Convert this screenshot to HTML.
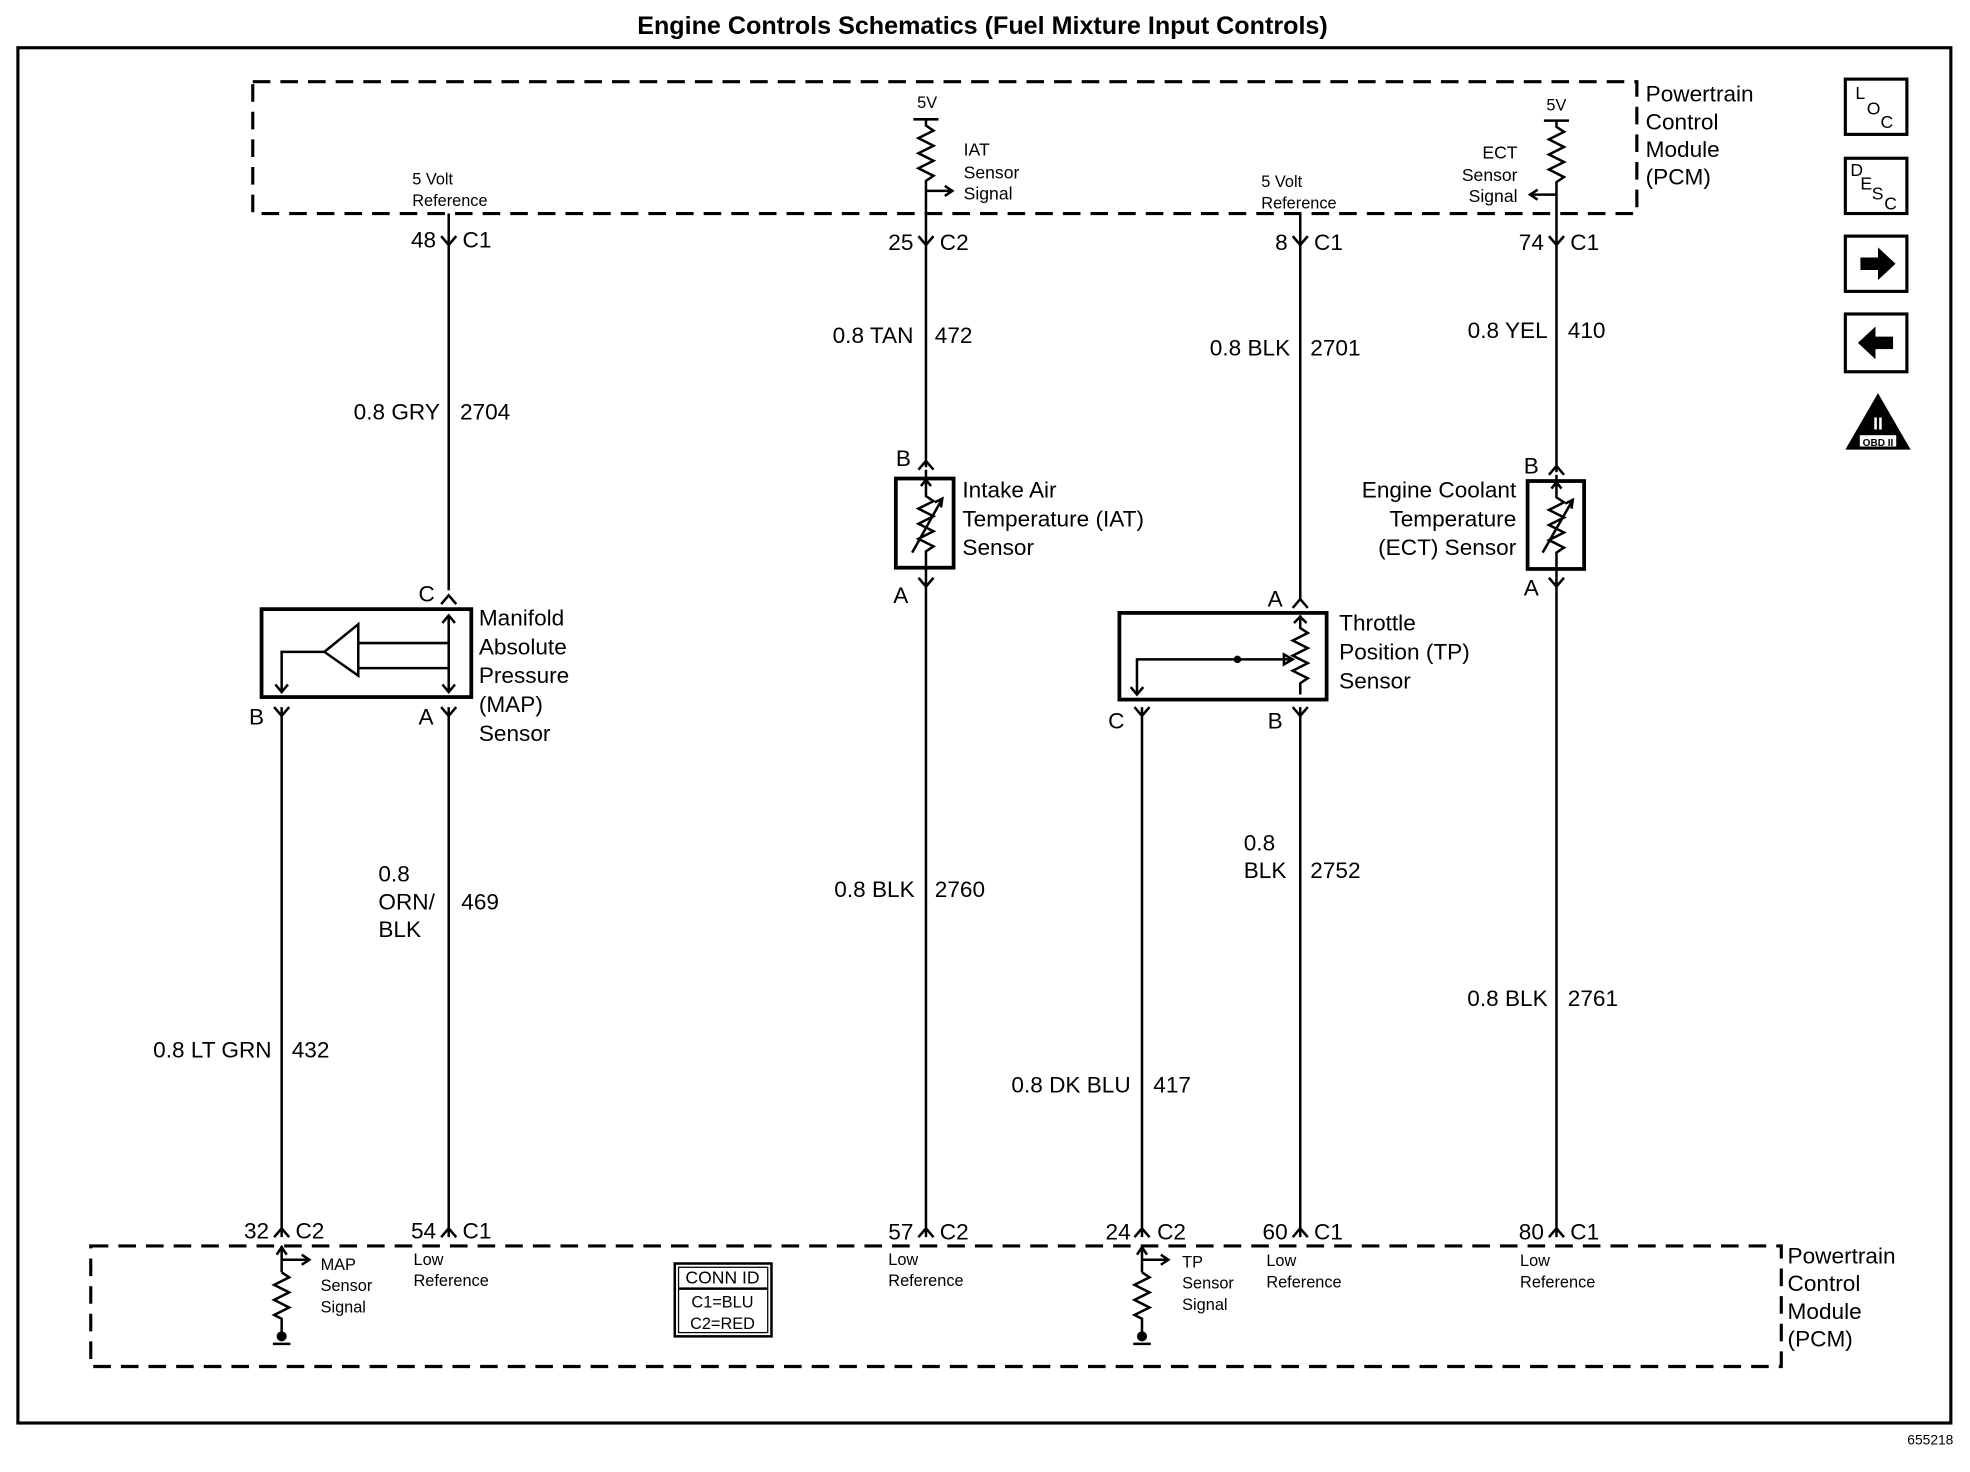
<!DOCTYPE html>
<html><head><meta charset="utf-8"><style>
html,body{margin:0;padding:0;background:#fff}
svg{display:block}
text{font-family:"Liberation Sans",sans-serif;fill:#000}
.l{font-size:18px}
.s{font-size:13px}
.m{font-size:14px}
.w{stroke:#000;stroke-width:2;fill:none}
.r{text-anchor:end}
</style></head><body>
<svg width="1970" height="1472" viewBox="0 0 1568 1172" xmlns="http://www.w3.org/2000/svg">
<text x="782" y="27" text-anchor="middle" style="font-size:20px;font-weight:bold">Engine Controls Schematics (Fuel Mixture Input Controls)</text>
<rect x="14" y="38" width="1539" height="1095" fill="none" stroke="#000" stroke-width="2.5"/>
<text x="1555" y="1150" class="r" style="font-size:11px">655218</text>

<!-- PCM boxes -->
<rect x="201" y="65" width="1102" height="105" fill="none" stroke="#000" stroke-width="2.5" stroke-dasharray="14 8"/>
<text class="l" x="1310" y="81">Powertrain</text><text class="l" x="1310" y="103">Control</text><text class="l" x="1310" y="125">Module</text><text class="l" x="1310" y="147">(PCM)</text>
<rect x="72" y="992" width="1346" height="96" fill="none" stroke="#000" stroke-width="2.5" stroke-dasharray="14 8"/>
<text class="l" x="1423" y="1006">Powertrain</text><text class="l" x="1423" y="1028">Control</text><text class="l" x="1423" y="1050">Module</text><text class="l" x="1423" y="1072">(PCM)</text>

<!-- Wire 357 top -->
<path class="w" d="M357 170V470M351 188l6 7 6-7M351 481l6-7 6 7"/>
<text class="s" x="328" y="147">5 Volt</text><text class="s" x="328" y="164">Reference</text>
<text class="l r" x="347" y="197">48</text><text class="l" x="368" y="197">C1</text>
<text class="l r" x="350" y="334">0.8 GRY</text><text class="l" x="366" y="334">2704</text>
<text class="l" x="333" y="479">C</text>

<!-- MAP sensor -->
<rect x="208" y="485" width="167" height="70" fill="none" stroke="#000" stroke-width="3"/>
<path class="w" d="M357 551V490M352 496l5-6 5 6M357 512H285M285 497V538L258 519Z M285 532H357V551M352 545l5 6 5-6M258 519H224V551M219 545l5 6 5-6"/>
<text class="l" x="381" y="498">Manifold</text><text class="l" x="381" y="521">Absolute</text><text class="l" x="381" y="544">Pressure</text><text class="l" x="381" y="567">(MAP)</text><text class="l" x="381" y="590">Sensor</text>
<text class="l" x="198" y="577">B</text><text class="l" x="333" y="577">A</text>
<path class="w" d="M224 563V985M218 563l6 7 6-7M357 563V985M351 563l6 7 6-7M218 985l6-7 6 7M351 985l6-7 6 7"/>
<text class="l r" x="216" y="842">0.8 LT GRN</text><text class="l" x="232" y="842">432</text>
<text class="l" x="301" y="702">0.8</text><text class="l" x="301" y="724">ORN/</text><text class="l" x="301" y="746">BLK</text><text class="l" x="367" y="724">469</text>
<text class="l r" x="214" y="986">32</text><text class="l" x="235" y="986">C2</text>
<text class="l r" x="347" y="986">54</text><text class="l" x="368" y="986">C1</text>
<path class="w" d="M224 992V1013M220 999l4-6 4 6M224 1003H246M240 999l6 4-6 4M224 1013l6 4-12 6 12 6-12 6 12 6-12 6 6 3V1062"/>
<circle cx="224" cy="1064" r="4"/><path class="w" d="M217 1070h14"/>
<text class="s" x="255" y="1011">MAP</text><text class="s" x="255" y="1028">Sensor</text><text class="s" x="255" y="1045">Signal</text>
<text class="s" x="329" y="1007">Low</text><text class="s" x="329" y="1024">Reference</text>

<!-- CONN ID -->
<rect x="537" y="1006" width="77" height="58" fill="none" stroke="#000" stroke-width="2"/>
<rect x="540" y="1009" width="71" height="52" fill="none" stroke="#000" stroke-width="1"/>
<path class="w" d="M540 1026H611" stroke-width="1"/>
<text class="m" x="575" y="1022" text-anchor="middle">CONN ID</text>
<text class="s" x="575" y="1041" text-anchor="middle">C1=BLU</text>
<text class="s" x="575" y="1058" text-anchor="middle">C2=RED</text>

<!-- Wire 737 -->
<text class="s" x="730" y="86">5V</text>
<path class="w" d="M727 95h20M737 95V100l6 4-12 6 12 6-12 6 12 6-12 6 12 6-6 4V170M737 152H758M752 148l6 4-6 4"/>
<text class="m" x="767" y="124">IAT</text><text class="m" x="767" y="142">Sensor</text><text class="m" x="767" y="159">Signal</text>
<path class="w" d="M737 170V372M731 188l6 7 6-7M731 374l6-7 6 7M737 460V985M731 460l6 7 6-7M731 985l6-7 6 7"/>
<text class="l r" x="727" y="199">25</text><text class="l" x="748" y="199">C2</text>
<text class="l r" x="727" y="273">0.8 TAN</text><text class="l" x="744" y="273">472</text>
<text class="l" x="713" y="371">B</text><text class="l" x="711" y="480">A</text>
<rect x="713" y="381" width="46" height="71" fill="none" stroke="#000" stroke-width="3"/>
<path class="w" d="M737 374V395l6 4-12 6 12 6-12 6 12 6-12 6 12 6-6 4V460M726 440L750 397M744 400l6-3-1 7M733 387l4-5 4 5"/>
<text class="l" x="766" y="396">Intake Air</text><text class="l" x="766" y="419">Temperature (IAT)</text><text class="l" x="766" y="442">Sensor</text>
<text class="l r" x="728" y="714">0.8 BLK</text><text class="l" x="744" y="714">2760</text>
<text class="l r" x="727" y="987">57</text><text class="l" x="748" y="987">C2</text>
<text class="s" x="707" y="1007">Low</text><text class="s" x="707" y="1024">Reference</text>

<!-- Wire 1035 -->
<text class="s" x="1004" y="149">5 Volt</text><text class="s" x="1004" y="166">Reference</text>
<path class="w" d="M1035 170V478M1029 188l6 7 6-7M1029 484l6-7 6 7"/>
<text class="l r" x="1025" y="199">8</text><text class="l" x="1046" y="199">C1</text>
<text class="l r" x="1027" y="283">0.8 BLK</text><text class="l" x="1043" y="283">2701</text>
<text class="l" x="1009" y="483">A</text>
<rect x="891" y="488" width="165" height="69" fill="none" stroke="#000" stroke-width="3"/>
<path class="w" d="M1035 490V500l6 4-12 6 12 6-12 6 12 6-12 6 12 6-6 4V553M1030 496l5-5 5 5M1029 525H905V553M900 547l5 6 5-6M1029 525l-7-4v8z"/>
<circle cx="985" cy="525" r="3"/>
<text class="l" x="1066" y="502">Throttle</text><text class="l" x="1066" y="525">Position (TP)</text><text class="l" x="1066" y="548">Sensor</text>
<text class="l" x="882" y="580">C</text><text class="l" x="1009" y="580">B</text>
<path class="w" d="M909 563V985M903 563l6 7 6-7M903 985l6-7 6 7M1035 563V985M1029 563l6 7 6-7M1029 985l6-7 6 7"/>
<text class="l" x="990" y="677">0.8</text><text class="l" x="990" y="699">BLK</text><text class="l" x="1043" y="699">2752</text>
<text class="l r" x="900" y="870">0.8 DK BLU</text><text class="l" x="918" y="870">417</text>
<text class="l r" x="900" y="987">24</text><text class="l" x="921" y="987">C2</text>
<text class="l r" x="1025" y="987">60</text><text class="l" x="1046" y="987">C1</text>
<path class="w" d="M909 992V1013M905 999l4-6 4 6M909 1003H930M924 999l6 4-6 4M909 1013l6 4-12 6 12 6-12 6 12 6-12 6 6 3V1062"/>
<circle cx="909" cy="1064" r="4"/><path class="w" d="M902 1070h14"/>
<text class="s" x="941" y="1009">TP</text><text class="s" x="941" y="1026">Sensor</text><text class="s" x="941" y="1043">Signal</text>
<text class="s" x="1008" y="1008">Low</text><text class="s" x="1008" y="1025">Reference</text>

<!-- Wire 1239 -->
<text class="s" x="1231" y="88">5V</text>
<path class="w" d="M1229 96h20M1239 96V101l6 4-12 6 12 6-12 6 12 6-12 6 12 6-6 4V170M1239 155H1218M1224 151l-6 4 6 4"/>
<text class="m r" x="1208" y="126">ECT</text><text class="m r" x="1208" y="144">Sensor</text><text class="m r" x="1208" y="161">Signal</text>
<path class="w" d="M1239 170V376M1233 188l6 7 6-7M1233 378l6-7 6 7M1239 460V985M1233 460l6 7 6-7M1233 985l6-7 6 7"/>
<text class="l r" x="1229" y="199">74</text><text class="l" x="1250" y="199">C1</text>
<text class="l r" x="1232" y="269">0.8 YEL</text><text class="l" x="1248" y="269">410</text>
<text class="l" x="1213" y="377">B</text><text class="l" x="1213" y="474">A</text>
<rect x="1216" y="383" width="45" height="70" fill="none" stroke="#000" stroke-width="3"/>
<path class="w" d="M1239 378V396l6 4-12 6 12 6-12 6 12 6-12 6 12 6-6 4V460M1228 440L1252 398M1246 401l6-3-1 7M1235 389l4-5 4 5"/>
<text class="l r" x="1207" y="396">Engine Coolant</text><text class="l r" x="1207" y="419">Temperature</text><text class="l r" x="1207" y="442">(ECT) Sensor</text>
<text class="l r" x="1232" y="801">0.8 BLK</text><text class="l" x="1248" y="801">2761</text>
<text class="l r" x="1229" y="987">80</text><text class="l" x="1250" y="987">C1</text>
<text class="s" x="1210" y="1008">Low</text><text class="s" x="1210" y="1025">Reference</text>

<!-- icons -->
<rect x="1469" y="63" width="49" height="44" fill="none" stroke="#000" stroke-width="2.5"/>
<text class="m" x="1477" y="79">L</text><text class="m" x="1486" y="91">O</text><text class="m" x="1497" y="102">C</text>
<rect x="1469" y="126" width="49" height="44" fill="none" stroke="#000" stroke-width="2.5"/>
<text class="m" x="1473" y="140">D</text><text class="m" x="1481" y="151">E</text><text class="m" x="1490" y="159">S</text><text class="m" x="1500" y="167">C</text>
<rect x="1469" y="188" width="49" height="44" fill="none" stroke="#000" stroke-width="2.5"/>
<path d="M1481 205h14v-8l14 13-14 13v-8h-14z"/>
<rect x="1469" y="250" width="49" height="46" fill="none" stroke="#000" stroke-width="2.5"/>
<path d="M1507 268h-14v-8l-14 13 14 13v-8h14z"/>
<path d="M1495 313L1521 358H1469Z"/>
<rect x="1480" y="346" width="30" height="10" fill="#fff" stroke="#000"/>
<text x="1495" y="355" text-anchor="middle" style="font-size:8px;font-weight:bold">OBD II</text>
<text x="1495" y="342" text-anchor="middle" style="font-size:14px;font-weight:bold;fill:#fff">II</text>
</svg>
</body></html>
